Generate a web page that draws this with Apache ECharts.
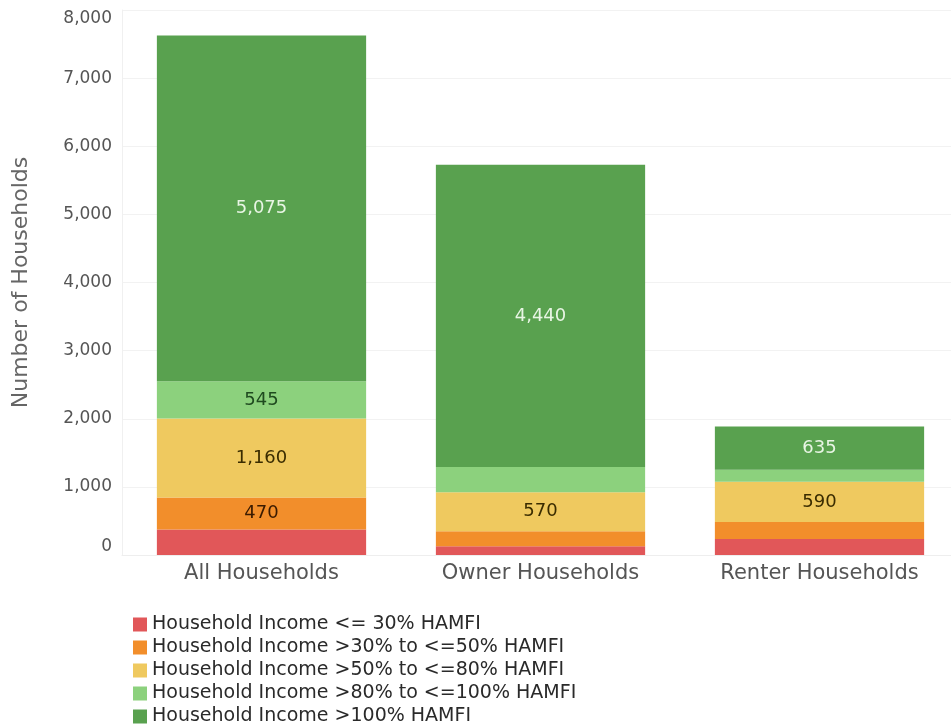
<!DOCTYPE html>
<html>
<head>
<meta charset="utf-8">
<script src="https://cdn.jsdelivr.net/npm/echarts@6/dist/echarts.min.js"></script>
<style>
  html, body { margin: 0; padding: 0; background: #fff; }
  #chart { width: 951px; height: 727px; }
</style>
</head>
<body>
<div id="chart"></div>
<script>
// categories along the x axis
const categories = ['All Households', 'Owner Households', 'Renter Households'];

// one array per income band
const seriesNames = [
  'Household Income <= 30% HAMFI',
  'Household Income >30% to <=50% HAMFI',
  'Household Income >50% to <=80% HAMFI',
  'Household Income >80% to <=100% HAMFI',
  'Household Income >100% HAMFI'
];
const le30 = [375, 130, 235];
const to50 = [470, 220, 250];
const to80 = [1160, 570, 590];
const to100 = [545, 370, 175];
const over100 = [5075, 4440, 635];

const yTicks = [0, 1000, 2000, 3000, 4000, 5000, 6000, 7000, 8000];

const colors = ['#E15759', '#F28E2B', '#EFC95F', '#8CD17D', '#59A14F'];
const labelColors = ['#3a1a10', '#3a1a00', '#3a2c00', '#1f4a1f', '#e8f5e4'];

const font = '"DejaVu Sans", sans-serif';
const allData = [le30, to50, to80, to100, over100];

// 小段不显示数值
const makeSeries = (name, data, i) => ({
  name: name,
  type: 'bar',
  stack: 'total',
  barWidth: '75%',
  data: data,
  itemStyle: { color: colors[i] },
  label: {
    show: true,
    position: 'inside',
    color: labelColors[i],
    fontFamily: font,
    fontSize: 18,
    formatter: p => p.value >= 400 ? p.value.toLocaleString('en-US') : ''
  },
  emphasis: { disabled: true }
});

const chart = echarts.init(document.getElementById('chart'));

chart.setOption({
  animation: false,
  textStyle: { fontFamily: font },
  grid: { left: 122, width: 837, top: 10, bottom: 172, containLabel: false, outerBoundsMode: 'none' },
  legend: {
    orient: 'vertical',
    left: 133,
    top: 615,
    height: 140,
    padding: 0,
    itemWidth: 14,
    itemHeight: 14,
    itemGap: 4,
    icon: 'rect',
    textStyle: { fontFamily: font, fontSize: 19, lineHeight: 18, color: '#2a2a2a' },
    data: seriesNames
  },
  xAxis: {
    type: 'category',
    data: categories,
    axisLine: { show: true, lineStyle: { color: '#eeeeee' } },
    axisTick: { show: false },
    axisLabel: { fontSize: 21, color: '#555', margin: 8, fontFamily: font }
  },
  yAxis: {
    type: 'value',
    min: yTicks[0],
    max: yTicks[yTicks.length - 1],
    interval: 1000,
    name: 'Number of Households',
    nameLocation: 'middle',
    nameGap: 90,
    nameTextStyle: { fontSize: 22, color: '#666', fontFamily: font },
    axisLine: { show: true, lineStyle: { color: '#f0f0f0' } },
    axisTick: { show: false },
    splitLine: { lineStyle: { color: '#f2f2f2' } },
    axisLabel: {
      fontSize: 17,
      color: '#555',
      margin: 10,
      fontFamily: font,
      verticalAlignMinLabel: 'bottom',
      verticalAlignMaxLabel: 'top',
      formatter: v => v.toLocaleString('en-US')
    }
  },
  series: seriesNames.map((n, i) => makeSeries(n, allData[i], i))
});
</script>
</body>
</html>
